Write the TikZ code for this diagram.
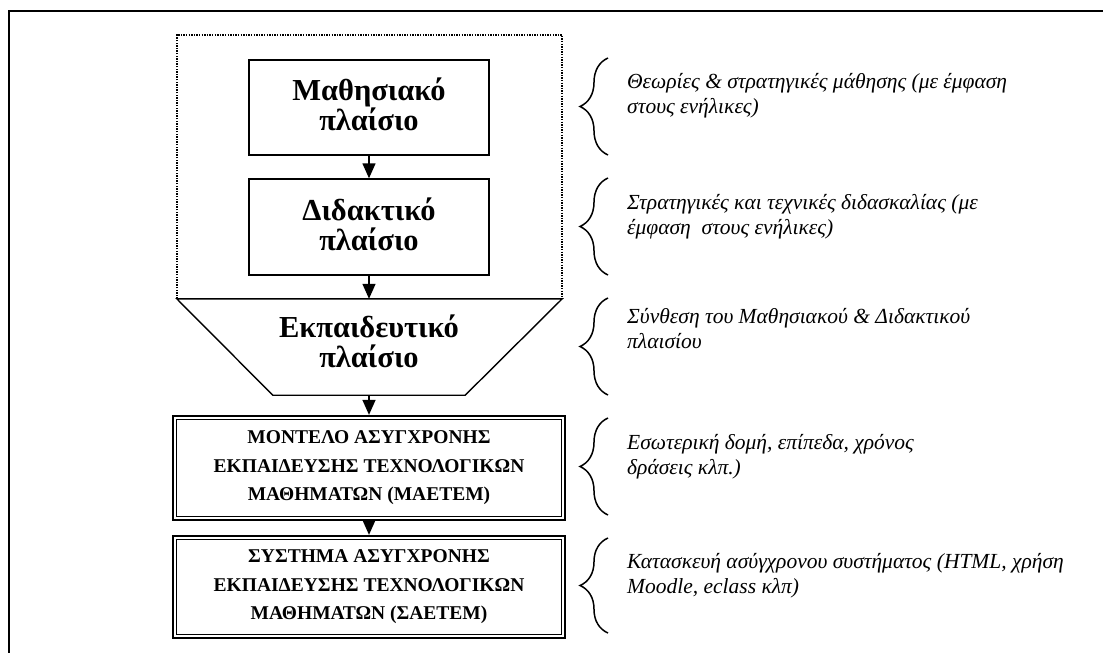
\documentclass[tikz,border=0pt]{standalone}
\usepackage{fontspec}
\setmainfont{Liberation Serif}
\usetikzlibrary{arrows.meta,decorations.pathreplacing,calc}

\begin{document}
\begin{tikzpicture}[x=1pt,y=-1pt,
  frame/.style={line width=2pt},
  box/.style={draw, line width=1.4pt, minimum width=240pt, inner sep=0pt},
  bigbox/.style={draw, line width=2.3pt, minimum width=392pt, minimum height=104pt,
    inner sep=0pt, align=center, font=\fontsize{19.5}{28.5}\selectfont\bfseries},
  inner/.style={line width=1.1pt},
  title/.style={inner sep=0pt, align=center, font=\fontsize{30.5}{30}\selectfont\bfseries},
  dots/.style={line width=1.5pt, dash pattern=on 1.4pt off 1.2pt},
  arr/.style={line width=1.4pt, -{Triangle[width=13pt,length=15pt]}},
  curly/.style={line width=1.5pt, decorate, decoration={brace, amplitude=28pt}},
  note/.style={anchor=west, inner sep=0pt, align=left, font=\fontsize{21.5}{25}\selectfont\itshape}
]
\useasboundingbox (0,0) rectangle (1103,653);

% outer page frame (open to the right and bottom)
\draw[frame] (1103,11) -- (9,11) -- (9,653);

% learning and teaching frames
\node[box, minimum height=95pt] (m1) at (369,107.5) {};
\node[title] (m1t) at (369,104) {Μαθησιακό\\πλαίσιο};
\node[box, minimum height=96pt] (m2) at (369,227) {};
\node[title] (m2t) at (369,224) {Διδακτικό\\πλαίσιο};

% educational frame (funnel)
\node[minimum width=385pt, minimum height=96pt, inner sep=0pt] (edu) at (369.5,347) {};
\draw[line width=1.4pt] (edu.north west) -- (edu.north east)
  -- ($(edu.south east)+(-97,0)$) -- ($(edu.south west)+(96,0)$) -- cycle;
\node[title] (edut) at (369,341) {Εκπαιδευτικό\\πλαίσιο};

% dotted enclosure around the first two frames
\coordinate (dtop) at (369.5,35);
\draw[dots] (edu.north west) |- (dtop) -| (edu.north east);

% model and system boxes with thick-thin borders
\node[bigbox] (m3) at (369,468) {ΜΟΝΤΕΛΟ ΑΣΥΓΧΡΟΝΗΣ\\ΕΚΠΑΙΔΕΥΣΗΣ ΤΕΧΝΟΛΟΓΙΚΩΝ\\ΜΑΘΗΜΑΤΩΝ (ΜΑΕΤΕΜ)};
\draw[inner] ($(m3.north west)+(5,5)$) rectangle ($(m3.south east)+(-5,-5)$);
\node[bigbox, minimum height=102pt] (m4) at (369,587) {ΣΥΣΤΗΜΑ ΑΣΥΓΧΡΟΝΗΣ\\ΕΚΠΑΙΔΕΥΣΗΣ ΤΕΧΝΟΛΟΓΙΚΩΝ\\ΜΑΘΗΜΑΤΩΝ (ΣΑΕΤΕΜ)};
\draw[inner] ($(m4.north west)+(5,5)$) rectangle ($(m4.south east)+(-5,-5)$);

% flow arrows
\draw[arr] (m1.south) -- (m2.north);
\draw[arr] (m2.south) -- (m2.south |- edu.north);
\draw[arr] (m2.south |- edu.south) -- (m3.north);
\draw[arr] (m3.south) -- (m4.north);

% explanatory braces
\draw[curly] (608,155) -- (608,58);
\draw[curly] (608,275) -- (608,178);
\draw[curly] (608,395) -- (608,298);
\draw[curly] (608,515) -- (608,418);
\draw[curly] (608,633) -- (608,538);

\node[note] (n1) at (627,96) {Θεωρίες \& στρατηγικές μάθησης (με έμφαση\\στους ενήλικες)};
\node[note] (n2) at (627,217) {Στρατηγικές και τεχνικές διδασκαλίας (με\\έμφαση\ \ στους ενήλικες)};
\node[note] (n3) at (627,329) {Σύνθεση του Μαθησιακού \& Διδακτικού\\πλαισίου};
\node[note] (n4) at (627,457) {Εσωτερική δομή, επίπεδα, χρόνος\\δράσεις κλπ.)};
\node[note] (n5) at (627,576) {Κατασκευή ασύγχρονου συστήματος (HTML, χρήση\\Moodle, eclass κλπ)};
\end{tikzpicture}
\end{document}
